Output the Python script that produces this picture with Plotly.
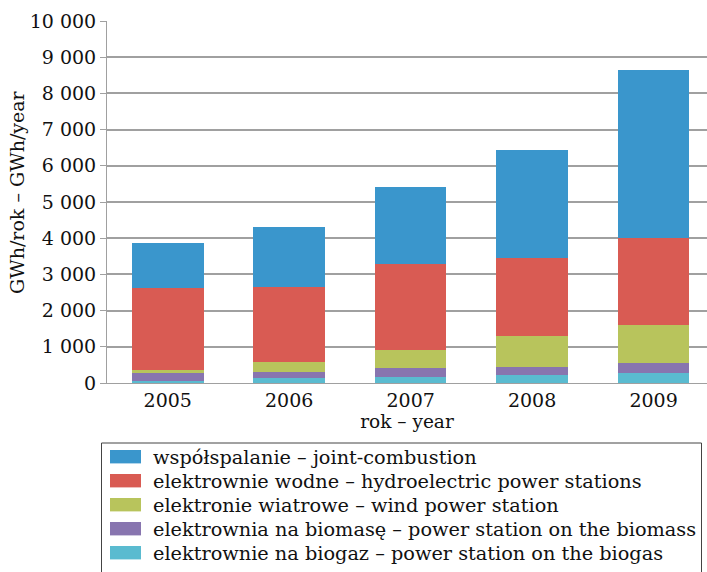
import plotly.graph_objects as go

years = ["2005", "2006", "2007", "2008", "2009"]
biogas = [65, 145, 175, 230, 285]
biomass = [200, 165, 250, 220, 260]
wind = [100, 280, 500, 860, 1070]
hydro = [2250, 2050, 2360, 2140, 2390]
joint = [1240, 1660, 2125, 2985, 4645]

names = {
    "joint": "współspalanie – joint-combustion",
    "hydro": "elektrownie wodne – hydroelectric power stations",
    "wind": "elektronie wiatrowe – wind power station",
    "biomass": "elektrownia na biomasę – power station on the biomass",
    "biogas": "elektrownie na biogaz – power station on the biogas",
}
colors = {
    "joint": "#3A96CC",
    "hydro": "#D95B53",
    "wind": "#B8C45C",
    "biomass": "#8875AF",
    "biogas": "#5ABBD0",
}
series = {"biogas": biogas, "biomass": biomass, "wind": wind, "hydro": hydro, "joint": joint}
legend_order = ["joint", "hydro", "wind", "biomass", "biogas"]

y_ticks = list(range(0, 10001, 1000))
y_tick_text = ["0", "1 000", "2 000", "3 000", "4 000", "5 000", "6 000", "7 000", "8 000", "9 000", "10 000"]
y_title = "GWh/rok – GWh/year"
x_title = "rok – year"

FONT = "DejaVu Serif"
W, H = 707, 572
ML, MR, MT, MB = 107, 0, 21, 189
PW, PH = W - ML - MR, H - MT - MB


def px(x):
    return (x - ML) / PW


def py(y):
    return (H - MB - y) / PH


fig = go.Figure()
for key in ["biogas", "biomass", "wind", "hydro", "joint"]:
    fig.add_trace(go.Bar(
        x=years, y=series[key], name=names[key], marker_color=colors[key],
        marker_line_width=0, showlegend=False,
    ))

shapes = [dict(
    type="rect", xref="paper", yref="paper",
    x0=px(101.5), x1=px(701.5), y0=py(443), y1=py(580),
    line=dict(color="#444444", width=1), fillcolor="rgba(0,0,0,0)", layer="above",
)]
annotations = [dict(
    xref="paper", yref="paper", x=px(17), y=py(192),
    xanchor="center", yanchor="middle", showarrow=False, textangle=-90,
    text=y_title, font=dict(size=19, color="#111111"),
)]
for i, key in enumerate(legend_order):
    cy = 456.7 + 24 * i
    shapes.append(dict(
        type="rect", xref="paper", yref="paper",
        x0=px(110), x1=px(141), y0=py(cy - 6.7), y1=py(cy + 6.7),
        line=dict(width=0), fillcolor=colors[key], layer="above",
    ))
    annotations.append(dict(
        xref="paper", yref="paper", x=px(151), y=py(cy + 1),
        xanchor="left", yanchor="middle", showarrow=False,
        text=names[key], font=dict(size=19.3, color="#111111"),
    ))

fig.update_layout(
    width=W, height=H,
    barmode="stack", bargap=0.41,
    margin=dict(l=ML, r=MR, t=MT, b=MB, autoexpand=False),
    paper_bgcolor="white", plot_bgcolor="white",
    font=dict(family=FONT, size=18, color="#111111"),
    showlegend=False,
    xaxis=dict(
        range=[-0.5, 4.44], showgrid=False, showline=True, linecolor="#a0a0a0",
        linewidth=1, ticks="", tickfont=dict(size=19), automargin=True,
        title=dict(text=x_title, font=dict(size=18.5), standoff=2),
    ),
    yaxis=dict(
        range=[0, 10000], tickvals=y_ticks, ticktext=y_tick_text,
        showgrid=True, gridcolor="#a0a0a0", gridwidth=1.5,
        showline=True, linecolor="#a0a0a0", linewidth=1,
        ticks="outside", ticklen=6, tickcolor="#a0a0a0",
        tickfont=dict(size=19), automargin=True,
        zeroline=False,
    ),
    shapes=shapes,
    annotations=annotations,
)

fig.write_html(
    "out.html",
    config={"displayModeBar": False},
    post_script="document.body.style.margin='0px';",
)
